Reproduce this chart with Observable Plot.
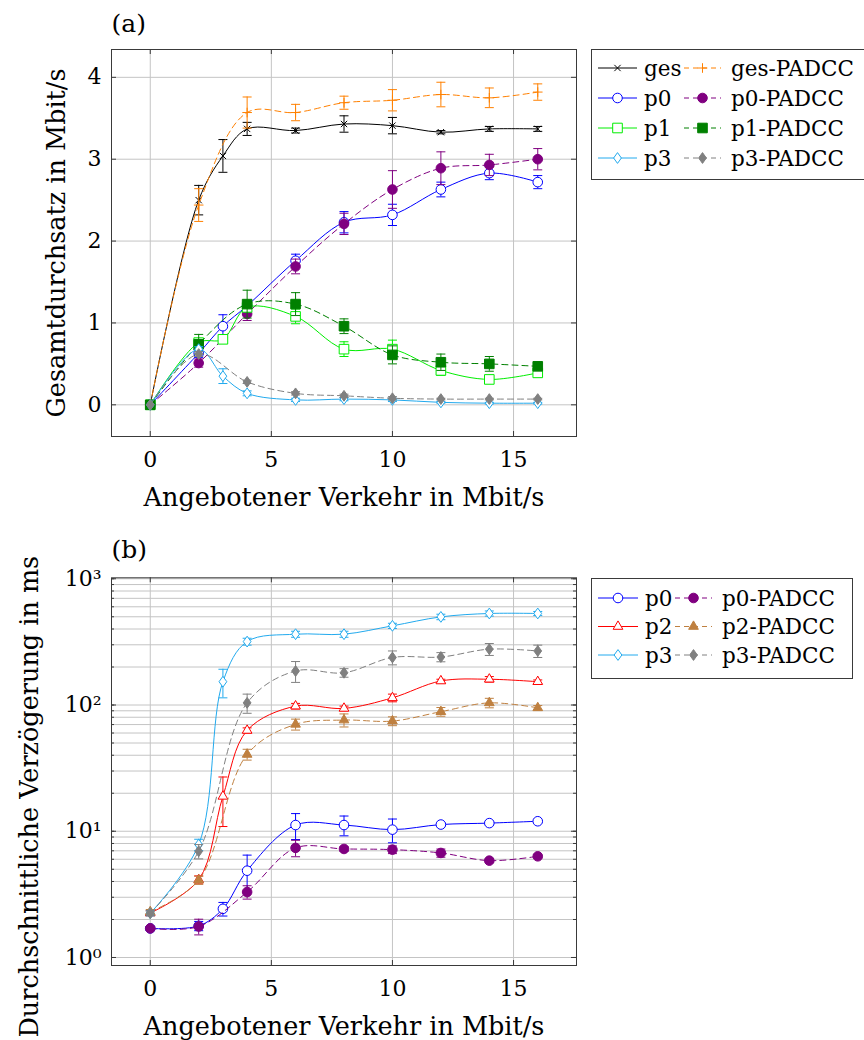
<!DOCTYPE html>
<html lang="de">
<head>
<meta charset="utf-8">
<script src="https://cdn.jsdelivr.net/npm/d3@7"></script>
<script src="https://cdn.jsdelivr.net/npm/@observablehq/plot@0.6"></script>
<style>
  html, body { margin: 0; background: #fff; }
  #page { position: relative; width: 864px; height: 1040px; overflow: hidden; background: #fff; }
  #page > * { position: absolute; }
  svg { overflow: visible; }
</style>
</head>
<body>
<div id="page"></div>
<script>
// Offered load in Mbit/s; the PADCC runs skip the 3 Mbit/s point
const load = [0, 2, 3, 4, 6, 8, 10, 12, 14, 16];
const loadPadcc = [0, 2, 4, 6, 8, 10, 12, 14, 16];

// (a) throughput in Mbit/s, mean and ± error
const gesThroughput      = [0, 2.50, 3.04, 3.37, 3.35, 3.43, 3.41, 3.33, 3.37, 3.37];
const gesThroughputErr   = [0, 0.18, 0.20, 0.08, 0.03, 0.10, 0.10, 0.02, 0.03, 0.03];
const gesPadccThroughput = [0, 2.44, 3.57, 3.57, 3.69, 3.72, 3.79, 3.75, 3.82];
const gesPadccThroughputErr = [0, 0.20, 0.19, 0.10, 0.08, 0.13, 0.15, 0.12, 0.10];
const p0Throughput       = [0, 0.63, 0.96, 1.21, 1.76, 2.23, 2.32, 2.63, 2.83, 2.72];
const p0ThroughputErr    = [0, 0.05, 0.14, 0.05, 0.08, 0.13, 0.13, 0.09, 0.08, 0.08];
const p0PadccThroughput  = [0, 0.51, 1.11, 1.69, 2.21, 2.63, 2.89, 2.93, 3.00];
const p0PadccThroughputErr = [0, 0.05, 0.08, 0.09, 0.13, 0.23, 0.20, 0.13, 0.13];
const p1Throughput       = [0, 0.76, 0.80, 1.19, 1.08, 0.68, 0.68, 0.42, 0.31, 0.39];
const p1ThroughputErr    = [0, 0.05, 0.05, 0.05, 0.09, 0.09, 0.11, 0.06, 0.05, 0.05];
const p1PadccThroughput  = [0, 0.74, 1.23, 1.23, 0.96, 0.61, 0.52, 0.50, 0.47];
const p1PadccThroughputErr = [0, 0.12, 0.17, 0.14, 0.09, 0.11, 0.10, 0.09, 0.05];
const p3Throughput       = [0, 0.68, 0.35, 0.14, 0.06, 0.07, 0.06, 0.03, 0.02, 0.02];
const p3ThroughputErr    = [0, 0.03, 0.09, 0.03, 0.02, 0.02, 0.02, 0.01, 0.01, 0.01];
const p3PadccThroughput  = [0, 0.62, 0.28, 0.14, 0.11, 0.08, 0.07, 0.07, 0.07];
const p3PadccThroughputErr = [0, 0.03, 0.02, 0.02, 0.02, 0.02, 0.01, 0.01, 0.01];

// (b) mean delay in ms, mean and ± error
const p0Delay       = [1.70, 1.78, 2.43, 4.87, 11.2, 11.2, 10.3, 11.3, 11.6, 12.0];
const p0DelayErr    = [0.05, 0.15, 0.30, 1.60, 2.60, 2.00, 2.20, 0.40, 0.30, 0.30];
const p0PadccDelay  = [1.70, 1.76, 3.30, 7.38, 7.24, 7.15, 6.73, 5.85, 6.33];
const p0PadccDelayErr = [0.05, 0.25, 0.40, 1.10, 0.30, 0.50, 0.50, 0.20, 0.20];
const p2Delay       = [2.25, 4.13, 18.9, 62.9, 98, 94, 114, 155, 160, 153];
const p2DelayErr    = [0.1, 0.3, 8, 3, 5, 4, 8, 5, 8, 5];
const p2PadccDelay  = [2.30, 4.10, 40.6, 70.3, 76, 74.6, 88.5, 104, 95];
const p2PadccDelayErr = [0.1, 0.3, 4, 7, 9, 6, 7, 9, 4];
const p3Delay       = [2.24, 7.84, 153, 318, 364, 364, 424, 499, 531, 531];
const p3DelayErr    = [0.1, 0.8, 39, 20, 20, 20, 20, 25, 25, 20];
const p3PadccDelay  = [2.24, 6.94, 104, 186, 180, 238, 240, 277, 268];
const p3PadccDelayErr = [0.1, 0.9, 18, 35, 14, 30, 20, 30, 30];

// Axis ticks and labels
const loadTicks = [0, 5, 10, 15];
const throughputTicks = [0, 1, 2, 3, 4];
const delayTicks = [1, 10, 100, 1000];
const delayTickLabels = ["10⁰", "10¹", "10²", "10³"];
const xLabel = "Angebotener Verkehr in Mbit/s";

// Colours
const C = {
  ges: "#000000", gesPadcc: "#ff8000",
  p0: "#0000ff", p0Padcc: "#800080",
  p1: "#00ee00", p1Padcc: "#008000",
  p2: "#ff0000", p2Padcc: "#bf8040",
  p3: "#22aaee", p3Padcc: "#808080"
};
const GRID = "#c4c4c4";
const AXIS = "#3a3a3a";
const FONT = "DejaVu Serif";
const FS_LABEL = 25.5;   // axis titles
const FS_TICK = 22;      // tick labels
const FS_LEGEND = 21.5;  // legend entries
const FS_TAG = 25;       // (a), (b)

// Marker shapes; Plot hands each symbol an area of π·r²
const rad = s => Math.sqrt(s / Math.PI);
const SYM = {
  circle:   {draw(c, s) { const r = rad(s); c.moveTo(r, 0); c.arc(0, 0, r, 0, 2 * Math.PI); c.closePath(); }},
  square:   {draw(c, s) { const r = rad(s); c.rect(-r, -r, 2 * r, 2 * r); }},
  diamond:  {draw(c, s) { const r = rad(s); c.moveTo(0, -r); c.lineTo(0.72 * r, 0); c.lineTo(0, r); c.lineTo(-0.72 * r, 0); c.closePath(); }},
  triangle: {draw(c, s) { const r = rad(s); c.moveTo(0, -r); c.lineTo(0.866 * r, 0.5 * r); c.lineTo(-0.866 * r, 0.5 * r); c.closePath(); }},
  times:    {draw(c, s) { const r = rad(s) * 0.75; c.moveTo(-r, -r); c.lineTo(r, r); c.moveTo(-r, r); c.lineTo(r, -r); }},
  plus:     {draw(c, s) { const r = rad(s); c.moveTo(-r, 0); c.lineTo(r, 0); c.moveTo(0, -r); c.lineTo(0, r); }},
  cap:      {draw(c, s) { const r = rad(s); c.moveTo(-r, 0); c.lineTo(r, 0); }}
};
const SIZE = {circle: 4.8, square: 4.8, diamond: 5.4, triangle: 5.6, times: 4.2, plus: 4.8};
const OPEN = new Set(["times", "plus"]);

const throughputSeries = [
  {name: "ges",       x: load,      y: gesThroughput,      err: gesThroughputErr,      color: C.ges,      symbol: "times",   filled: false, dashed: false},
  {name: "ges-PADCC", x: loadPadcc, y: gesPadccThroughput, err: gesPadccThroughputErr, color: C.gesPadcc, symbol: "plus",    filled: false, dashed: true},
  {name: "p0",        x: load,      y: p0Throughput,       err: p0ThroughputErr,       color: C.p0,       symbol: "circle",  filled: false, dashed: false},
  {name: "p0-PADCC",  x: loadPadcc, y: p0PadccThroughput,  err: p0PadccThroughputErr,  color: C.p0Padcc,  symbol: "circle",  filled: true,  dashed: true},
  {name: "p1",        x: load,      y: p1Throughput,       err: p1ThroughputErr,       color: C.p1,       symbol: "square",  filled: false, dashed: false},
  {name: "p1-PADCC",  x: loadPadcc, y: p1PadccThroughput,  err: p1PadccThroughputErr,  color: C.p1Padcc,  symbol: "square",  filled: true,  dashed: true},
  {name: "p3",        x: load,      y: p3Throughput,       err: p3ThroughputErr,       color: C.p3,       symbol: "diamond", filled: false, dashed: false},
  {name: "p3-PADCC",  x: loadPadcc, y: p3PadccThroughput,  err: p3PadccThroughputErr,  color: C.p3Padcc,  symbol: "diamond", filled: true,  dashed: true}
];

const delaySeries = [
  {name: "p0",       x: load,      y: p0Delay,      err: p0DelayErr,      color: C.p0,      symbol: "circle",   filled: false, dashed: false},
  {name: "p0-PADCC", x: loadPadcc, y: p0PadccDelay, err: p0PadccDelayErr, color: C.p0Padcc, symbol: "circle",   filled: true,  dashed: true},
  {name: "p2",       x: load,      y: p2Delay,      err: p2DelayErr,      color: C.p2,      symbol: "triangle", filled: false, dashed: false},
  {name: "p2-PADCC", x: loadPadcc, y: p2PadccDelay, err: p2PadccDelayErr, color: C.p2Padcc, symbol: "triangle", filled: true,  dashed: true},
  {name: "p3",       x: load,      y: p3Delay,      err: p3DelayErr,      color: C.p3,      symbol: "diamond",  filled: false, dashed: false},
  {name: "p3-PADCC", x: loadPadcc, y: p3PadccDelay, err: p3PadccDelayErr, color: C.p3Padcc, symbol: "diamond",  filled: true,  dashed: true}
];

const DASH = "6,4";

function seriesMarks(s) {
  const rows = s.x.map((x, i) => ({x, y: s.y[i], e: s.err[i]}));
  const withErr = rows.filter(d => d.e > 0);
  const open = OPEN.has(s.symbol);
  return [
    Plot.line(rows, {x: "x", y: "y", stroke: s.color, strokeWidth: 1, curve: "catmull-rom",
      strokeDasharray: s.dashed ? DASH : null}),
    Plot.ruleX(withErr, {x: "x", y1: d => d.y - d.e, y2: d => d.y + d.e, stroke: s.color, strokeWidth: 1}),
    Plot.dot(withErr, {x: "x", y: d => d.y - d.e, symbol: SYM.cap, r: 4.5, stroke: s.color, strokeWidth: 1, fill: "none"}),
    Plot.dot(withErr, {x: "x", y: d => d.y + d.e, symbol: SYM.cap, r: 4.5, stroke: s.color, strokeWidth: 1, fill: "none"}),
    Plot.dot(rows, {x: "x", y: "y", symbol: SYM[s.symbol], r: SIZE[s.symbol], stroke: s.color, strokeWidth: 1,
      fill: open ? "none" : (s.filled ? s.color : "#ffffff")})
  ];
}

// yTitle: {text, dx, anchorTop, dy} — vertical axis title, either centred on the frame
// or with its upper end pinned dy pixels from the frame top
function panel({series, y, yTicks, yMinor, yTickFormat, yTitle, tag, tagDy, marginTop, marginBottom, height}) {
  const width = 580, marginLeft = 111, marginRight = 4;
  const FW = width - marginLeft - marginRight;
  const FH = height - marginTop - marginBottom;
  const gridTicks = yMinor ? yMinor : yTicks;
  const titleMark = yTitle.anchorTop
    ? Plot.text([yTitle.text], {text: d => d, frameAnchor: "top-left", dx: yTitle.dx, dy: yTitle.dy,
        rotate: -90, textAnchor: "end", lineAnchor: "middle", fontSize: FS_LABEL})
    : Plot.text([yTitle.text], {text: d => d, frameAnchor: "left", dx: yTitle.dx,
        rotate: -90, textAnchor: "middle", lineAnchor: "middle", fontSize: FS_LABEL});
  const marks = [
    Plot.gridX(loadTicks, {stroke: GRID, strokeOpacity: 1, strokeWidth: 1}),
    Plot.gridY(gridTicks, {stroke: GRID, strokeOpacity: 1, strokeWidth: 1}),
    Plot.tickX(loadTicks, {x: d => d, insetTop: FH - 5, stroke: AXIS}),
    Plot.tickX(loadTicks, {x: d => d, insetBottom: FH - 5, stroke: AXIS}),
    Plot.tickY(yTicks, {y: d => d, insetRight: FW - 5, stroke: AXIS}),
    Plot.tickY(yTicks, {y: d => d, insetLeft: FW - 5, stroke: AXIS}),
    ...(yMinor ? [
      Plot.tickY(yMinor, {y: d => d, insetRight: FW - 3, stroke: AXIS}),
      Plot.tickY(yMinor, {y: d => d, insetLeft: FW - 3, stroke: AXIS})
    ] : []),
    Plot.frame({stroke: AXIS, strokeWidth: 1}),
    Plot.axisX(loadTicks, {tickSize: 0, tickPadding: 15, fontSize: FS_TICK, label: null}),
    Plot.axisY(yTicks, {tickSize: 0, tickPadding: 10, fontSize: FS_TICK, label: null, tickFormat: yTickFormat}),
    Plot.text([xLabel], {text: d => d, frameAnchor: "bottom", lineAnchor: "middle", textAnchor: "middle",
      dy: 61, fontSize: FS_LABEL}),
    titleMark,
    Plot.text([tag], {text: d => d, frameAnchor: "top-left", textAnchor: "start", lineAnchor: "middle",
      dx: 0, dy: tagDy, fontSize: FS_TAG}),
    ...series.flatMap(seriesMarks)
  ];
  return Plot.plot({
    width, height, marginLeft, marginRight, marginTop, marginBottom,
    style: {fontFamily: FONT, fontSize: FS_TICK + "px", color: "#000", background: "#fff", overflow: "visible"},
    x: {domain: [-1.6, 17.6]},
    y,
    marks
  });
}

function legend({series, cols, rowY0, rowStep, width, height, sw, textX}) {
  const svg = d3.create("svg").attr("width", width).attr("height", height)
    .style("font-family", FONT).style("font-size", FS_LEGEND + "px");
  svg.append("rect").attr("x", 0.5).attr("y", 0.5).attr("width", width - 1).attr("height", height - 1)
    .attr("fill", "#fff").attr("stroke", AXIS);
  const rows = d3.range(series.length / cols);
  rows.forEach(i => {
    const yy = rowY0 + i * rowStep;
    for (let j = 0; j < cols; j++) {
      const s = series[i * 2 + j];
      const [a, b] = sw[j];
      svg.append("line").attr("x1", a).attr("x2", b).attr("y1", yy).attr("y2", yy)
        .attr("stroke", s.color).attr("stroke-width", 1).attr("stroke-dasharray", s.dashed ? "5,4" : null);
      const p = d3.path();
      const r = SIZE[s.symbol];
      SYM[s.symbol].draw(p, Math.PI * r * r);
      svg.append("path").attr("d", p.toString())
        .attr("transform", `translate(${(a + b) / 2},${yy})`)
        .attr("stroke", s.color).attr("stroke-width", 1)
        .attr("fill", OPEN.has(s.symbol) ? "none" : (s.filled ? s.color : "#fff"));
      svg.append("text").attr("x", textX[j]).attr("y", yy).attr("dy", "0.35em").text(s.name);
    }
  });
  return svg.node();
}

const page = document.getElementById("page");

const throughputPanel = panel({
  series: throughputSeries,
  y: {domain: [-0.387, 4.34]},
  yTicks: throughputTicks,
  yTickFormat: d => String(d),
  yTitle: {text: "Gesamtdurchsatz in Mbit/s", dx: -55},
  tag: "(a)", tagDy: -26,
  marginTop: 49, marginBottom: 84, height: 520
});
throughputPanel.style.left = "0px"; throughputPanel.style.top = "0px";
page.appendChild(throughputPanel);

const delayMinor = [];
for (const base of [1, 10, 100]) for (let m = 1; m <= 9; m++) delayMinor.push(m * base);
delayMinor.push(1000);

const delayPanel = panel({
  series: delaySeries,
  y: {type: "log", domain: [0.864, 1018]},
  yTicks: delayTicks,
  yMinor: delayMinor,
  yTickFormat: d => delayTickLabels[delayTicks.indexOf(d)],
  yTitle: {text: "Durchschnittliche Verzögerung in ms", dx: -82, anchorTop: true, dy: -22},
  tag: "(b)", tagDy: -28,
  marginTop: 57.3, marginBottom: 75, height: 520
});
delayPanel.style.left = "0px"; delayPanel.style.top = "520px";
page.appendChild(delayPanel);

// Legends beside each panel
const legendA = legend({
  series: throughputSeries, cols: 2, rowY0: 19, rowStep: 30, width: 300, height: 131,
  sw: [[7, 46], [93, 130]], textX: [53, 140]
});
legendA.style.left = "591px"; legendA.style.top = "49px";
page.appendChild(legendA);

const legendB = legend({
  series: delaySeries, cols: 2, rowY0: 20, rowStep: 28.5, width: 262, height: 101,
  sw: [[7, 47], [84, 121]], textX: [54, 131]
});
legendB.style.left = "591px"; legendB.style.top = "578px";
page.appendChild(legendB);
</script>
</body>
</html>
